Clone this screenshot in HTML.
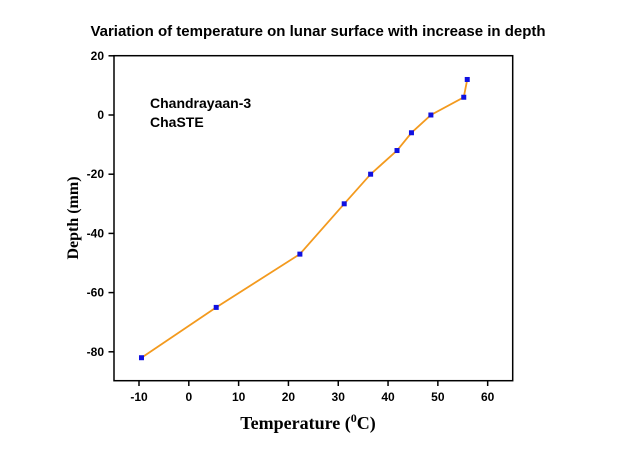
<!DOCTYPE html>
<html><head><meta charset="utf-8"><style>
body{margin:0;background:#fff;width:620px;height:461px;overflow:hidden}
svg{display:block}
</style></head><body>
<svg width="620" height="461">
<text x="318" y="36" text-anchor="middle" font-family="Liberation Sans, sans-serif" font-weight="bold" font-size="15">Variation of temperature on lunar surface with increase in depth</text>
<rect x="114" y="55.7" width="398.7" height="325" fill="none" stroke="#000" stroke-width="1.5"/>
<g id="xt"></g>
<g id="yt"></g>
<text x="150" y="108" font-family="Liberation Sans, sans-serif" font-weight="bold" font-size="14">Chandrayaan-3</text>
<text x="150" y="127" font-family="Liberation Sans, sans-serif" font-weight="bold" font-size="14">ChaSTE</text>
<text x="308" y="429" text-anchor="middle" font-family="Liberation Serif, serif" font-weight="bold" font-size="18">Temperature (<tspan baseline-shift="super" font-size="12">0</tspan>C)</text>
<text transform="translate(78,218) rotate(-90)" text-anchor="middle" font-family="Liberation Serif, serif" font-weight="bold" font-size="16">Depth (mm)</text>
<g id="series"></g>
</svg>
<script>
const temps=[-9.5,5.5,22.3,31.2,36.5,41.8,44.7,48.6,55.2,55.9];
const depths=[-82,-65,-47,-30,-20,-12,-6,0,6,12];
const xTicks=[-10,0,10,20,30,40,50,60];
const yTicks=[20,0,-20,-40,-60,-80];
const NS='http://www.w3.org/2000/svg';
const X=v=>139+(v+10)*4.981;
const Y=v=>115-v*2.96;
function mk(t,a,p){const e=document.createElementNS(NS,t);for(const k in a)e.setAttribute(k,a[k]);p.appendChild(e);return e;}
const xt=document.getElementById('xt'),yt=document.getElementById('yt'),s=document.getElementById('series');
xTicks.forEach(v=>{
 const l=mk('line',{x1:X(v),x2:X(v),y1:380.7,y2:386,stroke:'#000','stroke-width':1.5},xt);
 
 
 const t=mk('text',{x:X(v),y:401,'text-anchor':'middle','font-family':'Liberation Sans, sans-serif','font-weight':'bold','font-size':12},xt);
 t.textContent=v;
 
 
});
yTicks.forEach(v=>{
 const l=mk('line',{x1:108.5,x2:114,y1:Y(v),y2:Y(v),stroke:'#000','stroke-width':1.5},yt);
 
 
 const t=mk('text',{x:104,y:Y(v)+4,'text-anchor':'end','font-family':'Liberation Sans, sans-serif','font-weight':'bold','font-size':12},yt);
 t.textContent=v;
 
 
});
const pl=mk('polyline',{points:temps.map((t,i)=>X(t)+','+Y(depths[i])).join(' '),fill:'none',stroke:'#f39a1e','stroke-width':1.8},s);


temps.forEach((t,i)=>{
 const r=mk('rect',{x:X(t)-2.5,y:Y(depths[i])-2.5,width:5,height:5,fill:'#1010e0'},s);
 
 
});
</script>
</body></html>
